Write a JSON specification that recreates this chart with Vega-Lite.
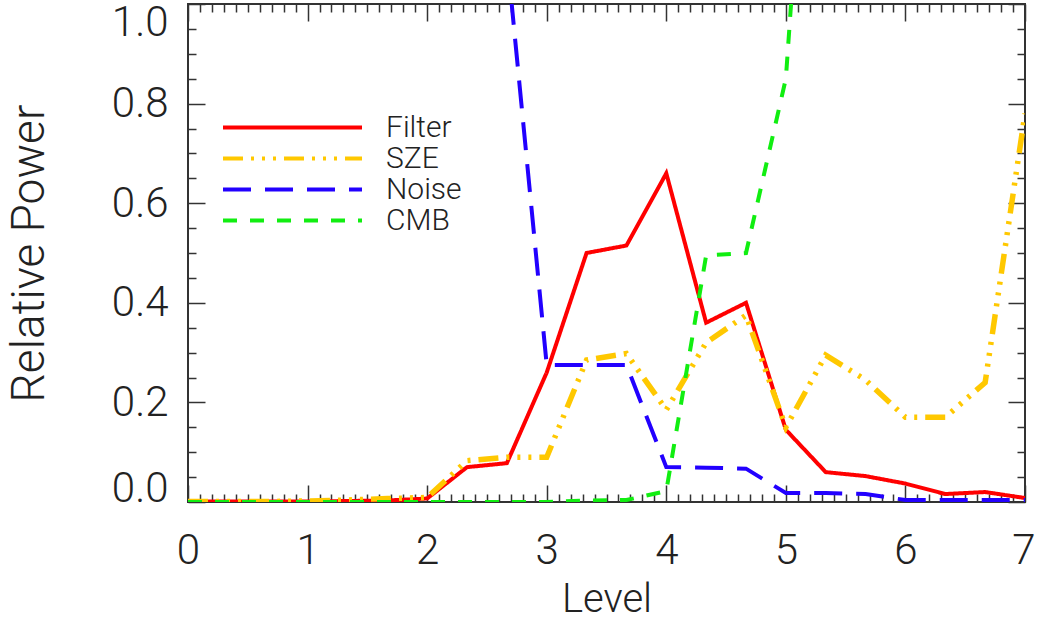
{
  "$schema": "https://vega.github.io/schema/vega-lite/v6.json",
  "width": 837,
  "height": 498,
  "autosize": {"type": "none"},
  "padding": {"left": 188, "top": 4, "right": 12, "bottom": 119},
  "background": "white",
  "config": {
    "view": {"stroke": "#333333", "strokeWidth": 2},
    "font": "Roboto",
    "axis": {"labelFont": "Roboto", "titleFont": "Roboto", "labelFontWeight": 300, "titleFontWeight": 300, "labelColor": "#222222", "titleColor": "#222222", "grid": false, "domain": false},
    "legend": {"labelFont": "Roboto", "labelFontWeight": 300, "labelColor": "#222222"}
  },
  "data": {
    "values": [
      {"level": 0, "series": "Filter", "value": 0.001},
      {"level": 0.3333, "series": "Filter", "value": 0.001},
      {"level": 0.6667, "series": "Filter", "value": 0.001},
      {"level": 1, "series": "Filter", "value": 0.001},
      {"level": 1.3333, "series": "Filter", "value": 0.002},
      {"level": 1.6667, "series": "Filter", "value": 0.003},
      {"level": 2, "series": "Filter", "value": 0.007},
      {"level": 2.3333, "series": "Filter", "value": 0.07},
      {"level": 2.6667, "series": "Filter", "value": 0.078},
      {"level": 3, "series": "Filter", "value": 0.26},
      {"level": 3.3333, "series": "Filter", "value": 0.5},
      {"level": 3.6667, "series": "Filter", "value": 0.515},
      {"level": 4, "series": "Filter", "value": 0.66},
      {"level": 4.3333, "series": "Filter", "value": 0.36},
      {"level": 4.6667, "series": "Filter", "value": 0.4},
      {"level": 5, "series": "Filter", "value": 0.145},
      {"level": 5.3333, "series": "Filter", "value": 0.06},
      {"level": 5.6667, "series": "Filter", "value": 0.052},
      {"level": 6, "series": "Filter", "value": 0.037},
      {"level": 6.3333, "series": "Filter", "value": 0.016},
      {"level": 6.6667, "series": "Filter", "value": 0.02},
      {"level": 7, "series": "Filter", "value": 0.008},
      {"level": 0, "series": "SZE", "value": 0.001},
      {"level": 0.3333, "series": "SZE", "value": 0.001},
      {"level": 0.6667, "series": "SZE", "value": 0.001},
      {"level": 1, "series": "SZE", "value": 0.002},
      {"level": 1.3333, "series": "SZE", "value": 0.004},
      {"level": 1.6667, "series": "SZE", "value": 0.007},
      {"level": 2, "series": "SZE", "value": 0.009},
      {"level": 2.3333, "series": "SZE", "value": 0.083},
      {"level": 2.6667, "series": "SZE", "value": 0.09},
      {"level": 3, "series": "SZE", "value": 0.09},
      {"level": 3.3333, "series": "SZE", "value": 0.285},
      {"level": 3.6667, "series": "SZE", "value": 0.298},
      {"level": 4, "series": "SZE", "value": 0.185},
      {"level": 4.3333, "series": "SZE", "value": 0.32},
      {"level": 4.6667, "series": "SZE", "value": 0.375},
      {"level": 5, "series": "SZE", "value": 0.15},
      {"level": 5.3333, "series": "SZE", "value": 0.295},
      {"level": 5.6667, "series": "SZE", "value": 0.245},
      {"level": 6, "series": "SZE", "value": 0.17},
      {"level": 6.3333, "series": "SZE", "value": 0.17},
      {"level": 6.6667, "series": "SZE", "value": 0.24},
      {"level": 7, "series": "SZE", "value": 0.78},
      {"level": 0, "series": "Noise", "value": 9},
      {"level": 0.3333, "series": "Noise", "value": 8},
      {"level": 0.6667, "series": "Noise", "value": 7},
      {"level": 1, "series": "Noise", "value": 6},
      {"level": 1.3333, "series": "Noise", "value": 5},
      {"level": 1.6667, "series": "Noise", "value": 4},
      {"level": 2, "series": "Noise", "value": 3},
      {"level": 2.3333, "series": "Noise", "value": 2},
      {"level": 2.6667, "series": "Noise", "value": 1.1},
      {"level": 3, "series": "Noise", "value": 0.275},
      {"level": 3.3333, "series": "Noise", "value": 0.275},
      {"level": 3.6667, "series": "Noise", "value": 0.275},
      {"level": 4, "series": "Noise", "value": 0.07},
      {"level": 4.3333, "series": "Noise", "value": 0.069},
      {"level": 4.6667, "series": "Noise", "value": 0.067},
      {"level": 5, "series": "Noise", "value": 0.018},
      {"level": 5.3333, "series": "Noise", "value": 0.018},
      {"level": 5.6667, "series": "Noise", "value": 0.016},
      {"level": 6, "series": "Noise", "value": 0.004},
      {"level": 6.3333, "series": "Noise", "value": 0.004},
      {"level": 6.6667, "series": "Noise", "value": 0.004},
      {"level": 7, "series": "Noise", "value": 0.004},
      {"level": 0, "series": "CMB", "value": 0},
      {"level": 0.3333, "series": "CMB", "value": 0},
      {"level": 0.6667, "series": "CMB", "value": 0},
      {"level": 1, "series": "CMB", "value": 0},
      {"level": 1.3333, "series": "CMB", "value": 0},
      {"level": 1.6667, "series": "CMB", "value": 0},
      {"level": 2, "series": "CMB", "value": 0},
      {"level": 2.3333, "series": "CMB", "value": 0},
      {"level": 2.6667, "series": "CMB", "value": 0},
      {"level": 3, "series": "CMB", "value": 0},
      {"level": 3.3333, "series": "CMB", "value": 0.003},
      {"level": 3.6667, "series": "CMB", "value": 0.004},
      {"level": 4, "series": "CMB", "value": 0.022},
      {"level": 4.3333, "series": "CMB", "value": 0.495},
      {"level": 4.6667, "series": "CMB", "value": 0.5},
      {"level": 5, "series": "CMB", "value": 0.85},
      {"level": 5.3333, "series": "CMB", "value": 2.0},
      {"level": 5.6667, "series": "CMB", "value": 3.0},
      {"level": 6, "series": "CMB", "value": 4.0},
      {"level": 6.3333, "series": "CMB", "value": 5.0},
      {"level": 6.6667, "series": "CMB", "value": 6.0},
      {"level": 7, "series": "CMB", "value": 7.0}
    ]
  },
  "resolve": {"axis": {"x": "independent", "y": "independent"}},
  "layer": [
    {
      "mark": {"type": "line", "clip": true},
      "encoding": {
        "x": {"field": "level", "type": "quantitative", "scale": {"domain": [0, 7], "nice": false, "zero": false},
          "axis": {"orient": "bottom", "values": [0, 1, 2, 3, 4, 5, 6, 7], "format": "d", "ticks": false, "labelFlush": false, "labelOverlap": false, "labelFontSize": 42, "labelPadding": 28,
            "labelAlign": {"condition": {"test": "datum.value === 7", "value": "right"}, "value": "center"},
            "labelOffset": {"condition": {"test": "datum.value === 7", "value": 10}, "value": 0},
            "title": "Level", "titleFontSize": 40, "titlePadding": 8}},
        "y": {"field": "value", "type": "quantitative", "scale": {"domain": [0, 1], "nice": false, "zero": false},
          "axis": {"orient": "left", "values": [0, 0.2, 0.4, 0.6, 0.8, 1.0], "format": ".1f", "ticks": false, "labelFlush": true, "labelOverlap": false, "labelFontSize": 42, "labelPadding": 20,
            "labelOffset": {"condition": [{"test": "datum.value === 0", "value": 8}, {"test": "datum.value === 1", "value": -2}], "value": 0},
            "title": "Relative Power", "titleFontSize": 46, "titlePadding": 58}},
        "color": {"field": "series", "type": "nominal",
          "scale": {"domain": ["Filter", "SZE", "Noise", "CMB"], "range": ["#ff0000", "#ffc800", "#2200ff", "#11ee11"]},
          "legend": {"orient": "none", "legendX": 33, "legendY": 109, "title": null, "symbolType": "stroke", "symbolSize": 19321, "symbolStrokeWidth": 4, "clipHeight": 29, "rowPadding": 0, "labelFontSize": 30, "labelOffset": 22, "padding": 0}},
        "strokeDash": {"field": "series", "type": "nominal",
          "scale": {"domain": ["Filter", "SZE", "Noise", "CMB"], "range": [[1, 0], [20, 8, 3, 8, 3, 8, 3, 8], [28, 14], [14, 13]]}},
        "order": {"field": "level", "type": "quantitative"},
        "strokeWidth": {"condition": {"test": "datum.series === 'SZE'", "value": 5.5}, "value": 4}
      }
    },
    {
      "mark": {"type": "line", "strokeOpacity": 0},
      "encoding": {
        "x": {"field": "level", "type": "quantitative",
          "axis": {"orient": "bottom", "values": [0,0.1,0.2,0.3,0.4,0.5,0.6,0.7,0.8,0.9,1,1.1,1.2,1.3,1.4,1.5,1.6,1.7,1.8,1.9,2,2.1,2.2,2.3,2.4,2.5,2.6,2.7,2.8,2.9,3,3.1,3.2,3.3,3.4,3.5,3.6,3.7,3.8,3.9,4,4.1,4.2,4.3,4.4,4.5,4.6,4.7,4.8,4.9,5,5.1,5.2,5.3,5.4,5.5,5.6,5.7,5.8,5.9,6,6.1,6.2,6.3,6.4,6.5,6.6,6.7,6.8,6.9,7], "labels": false, "title": null, "tickColor": "#333333", "tickWidth": 1.5, "tickSize": {"condition": {"test": "datum.value % 1 === 0", "value": -17}, "value": -8}}},
        "y": {"field": "value", "type": "quantitative",
          "axis": {"orient": "left", "values": [0,0.05,0.1,0.15,0.2,0.25,0.3,0.35,0.4,0.45,0.5,0.55,0.6,0.65,0.7,0.75,0.8,0.85,0.9,0.95,1], "labels": false, "title": null, "tickColor": "#333333", "tickWidth": 1.5, "tickSize": {"condition": {"test": "abs(datum.value*5 - round(datum.value*5)) < 0.001", "value": -17}, "value": -8}}},
        "detail": {"field": "series", "type": "nominal"}
      }
    },
    {
      "mark": {"type": "line", "strokeOpacity": 0},
      "encoding": {
        "x": {"field": "level", "type": "quantitative",
          "axis": {"orient": "top", "values": [0,0.1,0.2,0.3,0.4,0.5,0.6,0.7,0.8,0.9,1,1.1,1.2,1.3,1.4,1.5,1.6,1.7,1.8,1.9,2,2.1,2.2,2.3,2.4,2.5,2.6,2.7,2.8,2.9,3,3.1,3.2,3.3,3.4,3.5,3.6,3.7,3.8,3.9,4,4.1,4.2,4.3,4.4,4.5,4.6,4.7,4.8,4.9,5,5.1,5.2,5.3,5.4,5.5,5.6,5.7,5.8,5.9,6,6.1,6.2,6.3,6.4,6.5,6.6,6.7,6.8,6.9,7], "labels": false, "title": null, "tickColor": "#333333", "tickWidth": 1.5, "tickSize": {"condition": {"test": "datum.value % 1 === 0", "value": -17}, "value": -8}}},
        "y": {"field": "value", "type": "quantitative",
          "axis": {"orient": "right", "values": [0,0.05,0.1,0.15,0.2,0.25,0.3,0.35,0.4,0.45,0.5,0.55,0.6,0.65,0.7,0.75,0.8,0.85,0.9,0.95,1], "labels": false, "title": null, "tickColor": "#333333", "tickWidth": 1.5, "tickSize": {"condition": {"test": "abs(datum.value*5 - round(datum.value*5)) < 0.001", "value": -17}, "value": -8}}},
        "detail": {"field": "series", "type": "nominal"}
      }
    }
  ]
}
